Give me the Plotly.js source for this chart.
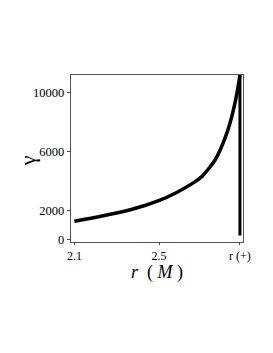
<!DOCTYPE html>
<html><head><meta charset="utf-8">
<script src="https://cdn.plot.ly/plotly-3.0.1.min.js"></script>
<style>html,body{margin:0;padding:0;background:#fff;}#chart{width:273px;height:353px;}</style>
</head><body><div id="chart"></div>
<script>
var rPlus = 2.8825;
var rValues = [2.100, 2.231, 2.373, 2.505, 2.576, 2.671, 2.702, 2.742, 2.765, 2.789, 2.820, 2.835, 2.862, 2.875, 2.8825];
var gammaValues = [1270, 1630, 2080, 2700, 3170, 3960, 4300, 4980, 5430, 6110, 7240, 7900, 9500, 10500, 11200];
var horizonLineX = [rPlus, rPlus];
var horizonLineY = [300, 11200];
var xTickVals = [2.1, 2.5, rPlus];
var xTickText = ['2.1', '2.5', 'r (+)'];
var yTickVals = [0, 2000, 6000, 10000];
var yTickText = ['0', '2000', '6000', '10000'];
var xTitle = '<i>r</i>  ( <i>M</i> )';
var yTitle = 'γ';

var serif = 'Liberation Serif, Times New Roman, serif';
var traces = [
  {x: rValues, y: gammaValues, mode: 'lines', line: {color: '#000', width: 3.5, shape: 'spline', smoothing: 1.2}, hoverinfo: 'skip'},
  {x: horizonLineX, y: horizonLineY, mode: 'lines', line: {color: '#000', width: 3}, hoverinfo: 'skip'}
];
var layout = {
  width: 273, height: 353,
  margin: {l: 71, r: 30, t: 75, b: 111},
  paper_bgcolor: '#fff', plot_bgcolor: '#fff',
  showlegend: false,
  font: {family: serif, color: '#000', size: 12},
  xaxis: {
    range: [2.084, 2.897], tickvals: xTickVals, ticktext: xTickText,
    ticks: 'outside', ticklen: 2, tickcolor: '#444', showgrid: false, zeroline: false,
    showline: true, linecolor: '#555', linewidth: 1.2, mirror: true,
    tickfont: {family: serif, size: 12}
  },
  yaxis: {
    range: [-140, 11200], tickvals: yTickVals, ticktext: yTickText,
    ticks: 'outside', ticklen: 3, tickcolor: '#444', showgrid: false, zeroline: false,
    showline: true, linecolor: '#555', linewidth: 1.2, mirror: true,
    tickfont: {family: serif, size: 12.5}
  },
  annotations: [
    {text: xTitle, xref: 'paper', yref: 'paper', x: 0.5, y: -0.185, xanchor: 'center', yanchor: 'middle',
     showarrow: false, borderpad: 0, font: {family: serif, size: 18}},
    {text: yTitle, xref: 'paper', yref: 'paper', x: -0.255, y: 0.485, xanchor: 'center', yanchor: 'middle',
     textangle: -90, showarrow: false, borderpad: 0, font: {family: serif, size: 22}}
  ]
};
Plotly.newPlot('chart', traces, layout, {displayModeBar: false, staticPlot: true});
</script></body></html>
